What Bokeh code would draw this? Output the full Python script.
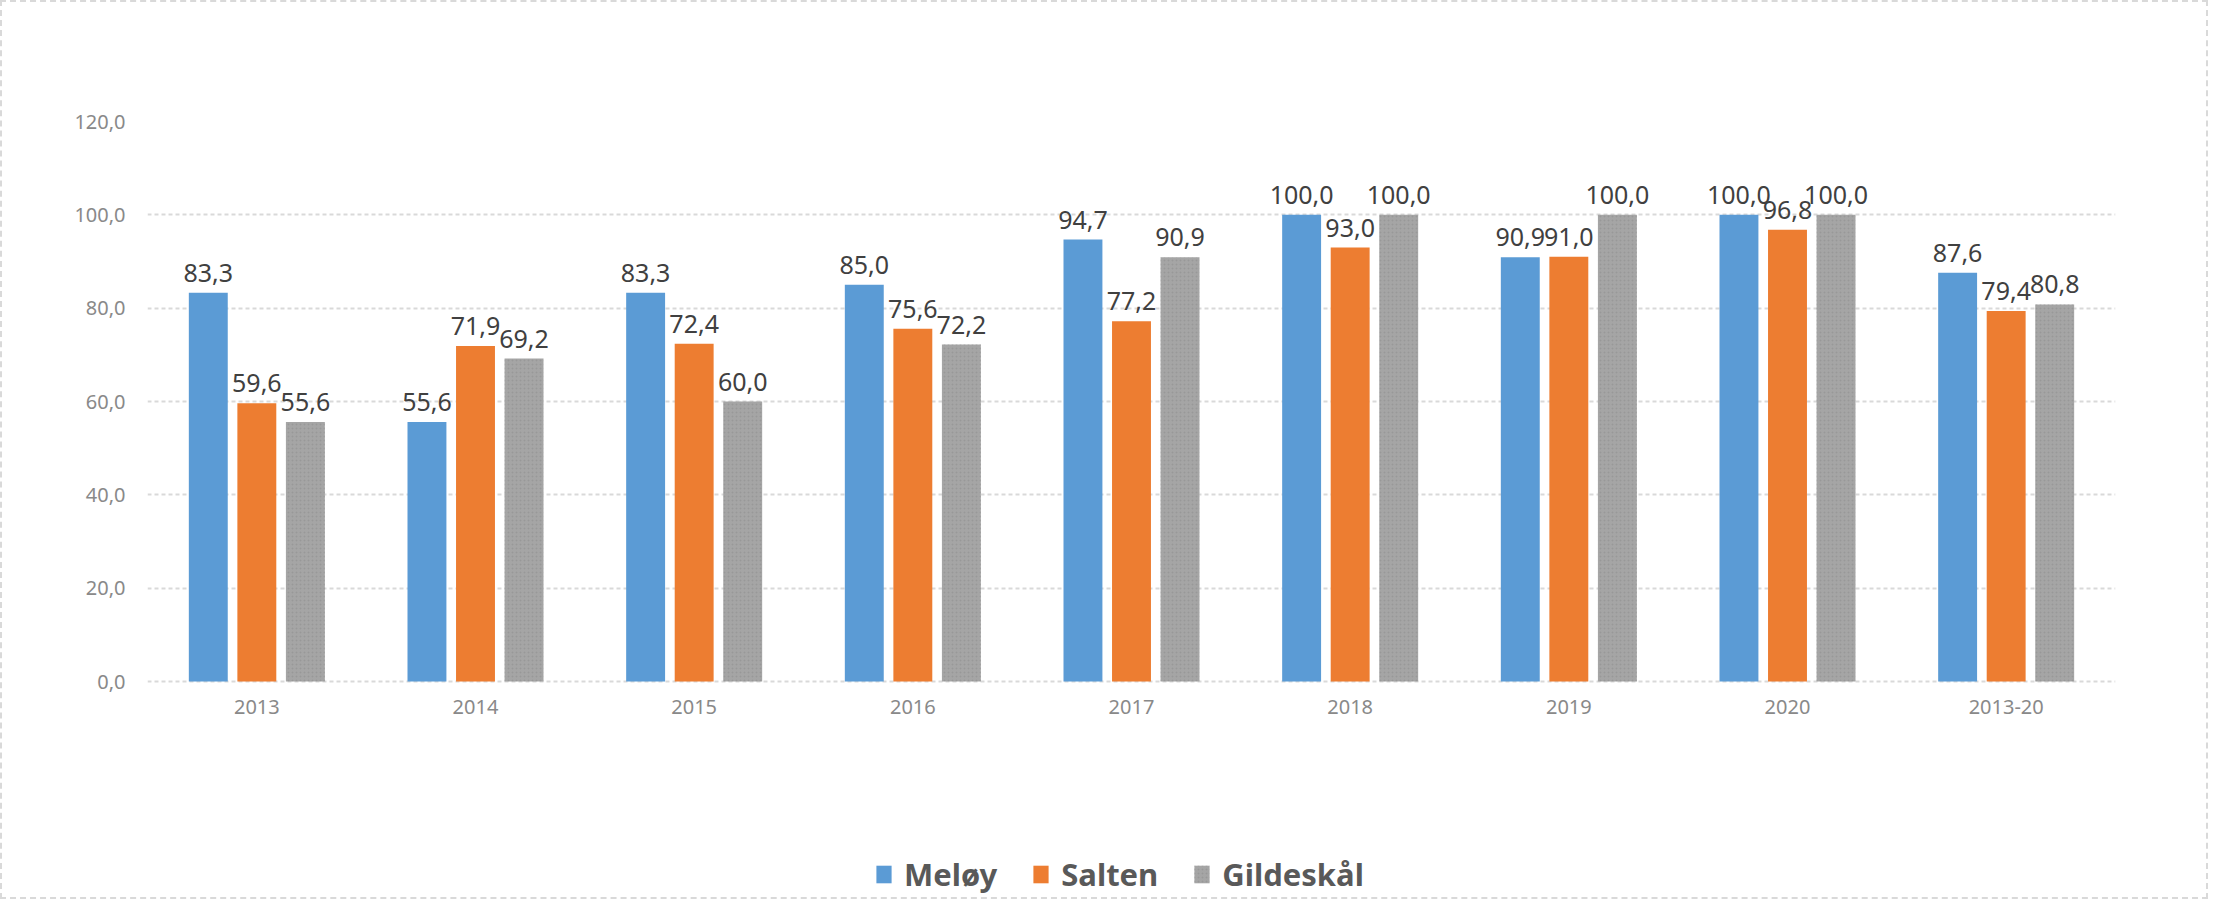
from bokeh.plotting import figure
from bokeh.models import (ColumnDataSource, FactorRange, Range1d, FixedTicker,
                          Legend, LegendItem)
from bokeh.transform import dodge
from bokeh.core.properties import value
from bokeh.embed import file_html
from bokeh.resources import INLINE

categories = ["2013", "2014", "2015", "2016", "2017", "2018", "2019", "2020", "2013-20"]
meloy = [83.3, 55.6, 83.3, 85.0, 94.7, 100.0, 90.9, 100.0, 87.6]
salten = [59.6, 71.9, 72.4, 75.6, 77.2, 93.0, 91.0, 96.8, 79.4]
gildeskal = [55.6, 69.2, 60.0, 72.2, 90.9, 100.0, 100.0, 100.0, 80.8]
series_names = ["Meløy", "Salten", "Gildeskål"]
y_ticks = [0, 20, 40, 60, 80, 100, 120]


def fmt(v):
    return f"{v:.1f}".replace(".", ",")


FONT = value("Noto Sans")

# frame: 129..905 px vertically; 0 sits at 689 px -> room below 0 for legend
PX_PER_UNIT = 560 / 120.0
y_min = -(905 - 689) / PX_PER_UNIT

p = figure(x_range=FactorRange(*categories, range_padding=0),
           y_range=Range1d(y_min, 120),
           frame_width=1968, frame_height=776,
           min_border_left=145, min_border_right=91,
           min_border_top=119, min_border_bottom=0,
           output_backend="svg", toolbar_location=None)
p.styles = {"border": "2px dashed #d9d9d9"}
p.outline_line_color = None
p.background_fill_color = "white"
p.border_fill_color = "white"

# axes
p.yaxis.ticker = FixedTicker(ticks=y_ticks)
p.yaxis.major_label_overrides = {t: fmt(t) for t in y_ticks}
p.xaxis.fixed_location = 0
for ax in (p.xaxis[0], p.yaxis[0]):
    ax.axis_line_color = None
    ax.major_tick_line_color = None
    ax.minor_tick_line_color = None
    ax.major_tick_in = 0
    ax.major_tick_out = 0
    ax.major_label_text_font = "Noto Sans"
    ax.major_label_text_font_size = "20px"
    ax.major_label_text_color = "#898989"
p.yaxis.major_label_standoff = 22
p.xaxis.major_label_standoff = 18

p.xgrid.grid_line_color = None
p.ygrid.grid_line_color = "#d9d9d9"
p.ygrid.grid_line_width = 2
p.ygrid.grid_line_dash = "4 3"

colors = ["#5B9BD5", "#ED7D31", "#A5A5A5"]
offsets = [-0.222, 0.0, 0.222]
data = [meloy, salten, gildeskal]

items = []
for name, vals, col, off in zip(series_names, data, colors, offsets):
    src = ColumnDataSource(dict(cat=categories, val=vals, lbl=[fmt(v) for v in vals]))
    kw = {}
    if col == "#A5A5A5":
        kw = dict(hatch_pattern="dot", hatch_scale=4, hatch_color="#8c8c8c",
                  hatch_alpha=0.5, hatch_weight=1)
    r = p.vbar(x=dodge("cat", off, range=p.x_range), top="val", width=0.178,
               source=src, fill_color=col, line_color=None, **kw)
    p.text(x=dodge("cat", off, range=p.x_range), y="val", text="lbl", source=src,
           text_align="center", text_baseline="alphabetic", y_offset=-20,
           text_font=FONT, text_font_size="25px", text_color="#404040")
    items.append(LegendItem(label=name, renderers=[r]))

legend = Legend(items=items, orientation="horizontal", location=(727, 2),
                glyph_width=19, glyph_height=22, label_standoff=11, spacing=34,
                padding=0, margin=0, border_line_color=None,
                background_fill_alpha=0,
                label_text_font="Noto Sans", label_text_font_size="31px",
                label_text_font_style="bold",
                label_text_color="#595959")
p.add_layout(legend, "center")

open("out.html", "w").write(file_html(p, INLINE))
